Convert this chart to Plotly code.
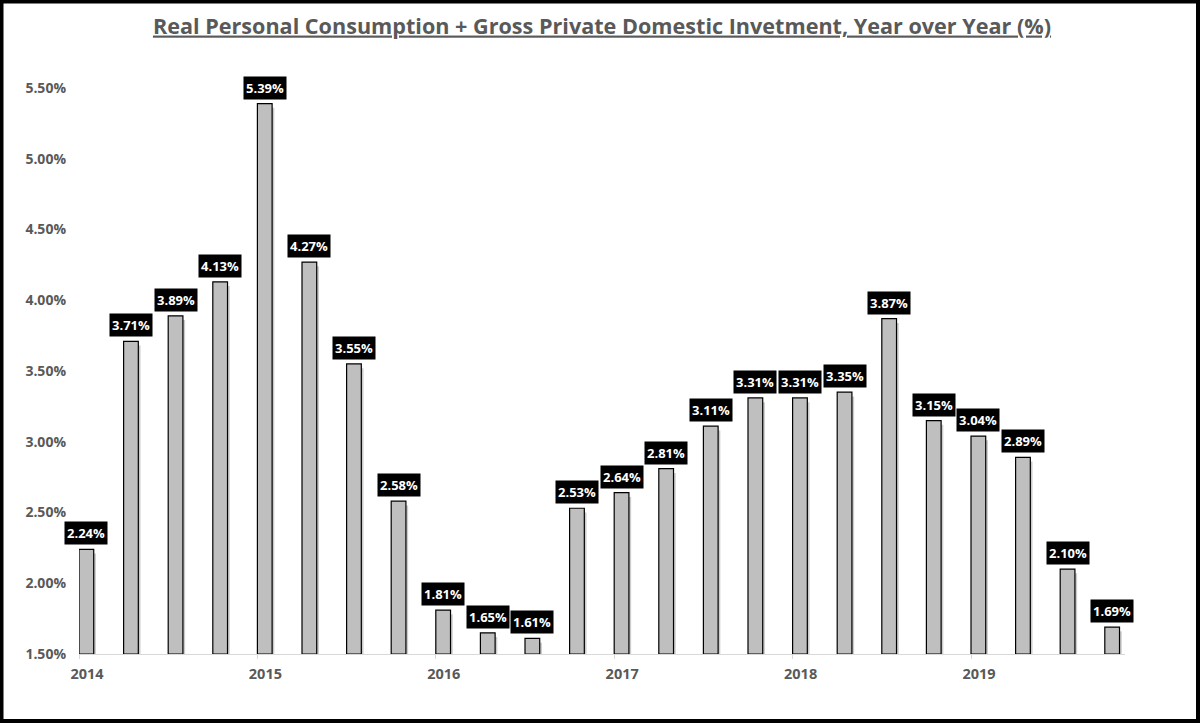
import plotly.graph_objects as go

# Quarterly data 2014 Q1 - 2019 Q4
quarters = list(range(24))
values = [2.24, 3.71, 3.89, 4.13, 5.39, 4.27, 3.55, 2.58,
          1.81, 1.65, 1.61, 2.53, 2.64, 2.81, 3.11, 3.31,
          3.31, 3.35, 3.87, 3.15, 3.04, 2.89, 2.10, 1.69]
year_ticks = [0, 4, 8, 12, 16, 20]
year_labels = ["2014", "2015", "2016", "2017", "2018", "2019"]
y_ticks = [1.5, 2.0, 2.5, 3.0, 3.5, 4.0, 4.5, 5.0, 5.5]
y_labels = [f"{v:.2f}%" for v in y_ticks]

TXT = "#595959"
FONT = "Open Sans"
BW = 0.33
BASE = 1.5

W, H = 1200, 723
L, R, T, B = 79, 75, 67, 69
PW, PH = W - L - R, H - T - B

fig = go.Figure()
# soft shadow
fig.add_trace(go.Bar(
    x=quarters, y=[v - BASE - 0.03 for v in values], base=BASE,
    offset=0.05, width=BW,
    marker=dict(color="rgba(0,0,0,0.2)", line=dict(width=0)),
    hoverinfo="skip", showlegend=False,
))
fig.add_trace(go.Bar(
    x=quarters, y=[v - BASE for v in values], base=BASE,
    offset=0, width=BW,
    marker=dict(color="#bfbfbf", line=dict(color="#000000", width=1.2)),
    showlegend=False,
))

for q, v in zip(quarters, values):
    fig.add_annotation(
        x=q + BW / 2, y=v, xref="x", yref="y",
        text=f"<b>{v:.2f}%</b>", showarrow=False,
        yanchor="bottom", yshift=4,
        font=dict(family=FONT, size=13, color="white"),
        bgcolor="black", borderpad=2,
    )

# outer border
fig.add_shape(type="rect", xref="paper", yref="paper",
              x0=(1.5 - L) / PW, x1=(W - 2 - L) / PW,
              y0=-(B - 2) / PH, y1=1 + (T - 1.5) / PH,
              line=dict(color="black", width=4), layer="above")

fig.update_layout(
    width=W, height=H,
    margin=dict(l=L, r=R, t=T, b=B),
    plot_bgcolor="white", paper_bgcolor="white",
    barmode="overlay",
    title=dict(
        text="Real Personal Consumption + Gross Private Domestic Invetment, Year over Year (%)",
        x=0.5, xref="paper", xanchor="center", y=1 - 26 / H, yanchor="middle",
        font=dict(family=FONT, size=21.6, color=TXT, weight="bold", lineposition="under"),
    ),
    xaxis=dict(
        range=[0, PW / 44.6], tickmode="array", tickvals=year_ticks, ticktext=year_labels,
        showgrid=False, zeroline=False, showline=True, linecolor="#d9d9d9", linewidth=1,
        ticks="outside", ticklen=4, tickcolor="#d9d9d9", ticklabelshift=8,
        ticklabelstandoff=3,
        tickfont=dict(family=FONT, size=14.5, color=TXT, weight="bold"),
        fixedrange=True,
    ),
    yaxis=dict(
        range=[BASE, BASE + PH / 141.5], tickmode="array", tickvals=y_ticks, ticktext=y_labels,
        showgrid=False, zeroline=False, showline=False, ticks="",
        ticklabelstandoff=12,
        tickfont=dict(family=FONT, size=14, color=TXT, weight="bold"),
        fixedrange=True,
    ),
)

fig.write_html("out.html", config={"displayModeBar": False},
               post_script="document.body.style.margin='0';document.body.style.overflow='hidden';")
